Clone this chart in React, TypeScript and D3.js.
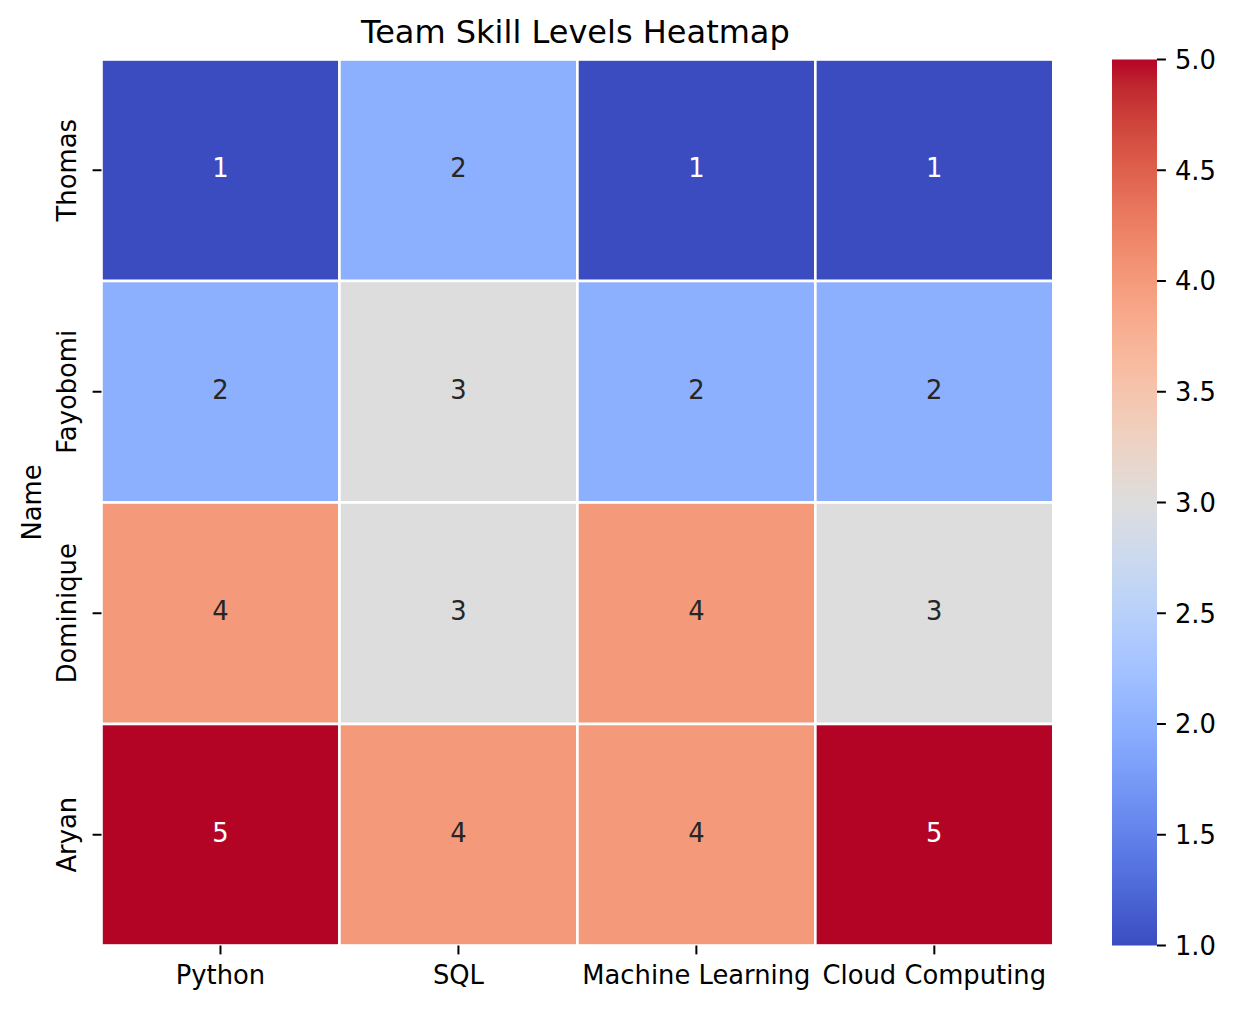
import React from "react";
import * as d3 from "d3";

const names = ["Thomas", "Fayobomi", "Dominique", "Aryan"];
const skills = ["Python", "SQL", "Machine Learning", "Cloud Computing"];
const values = [
  [1, 2, 1, 1],
  [2, 3, 2, 2],
  [4, 3, 4, 3],
  [5, 4, 4, 5],
];
const cbarTicks = [1.0, 1.5, 2.0, 2.5, 3.0, 3.5, 4.0, 4.5, 5.0];

// matplotlib coolwarm samples (33 points)
const coolwarm: [number, number, number][] = [
  [59, 76, 192], [68, 90, 204], [77, 104, 215], [87, 117, 225], [98, 130, 234],
  [108, 142, 241], [119, 154, 247], [130, 165, 251], [141, 176, 254], [152, 185, 255],
  [163, 194, 255], [174, 201, 253], [184, 208, 249], [194, 213, 244], [204, 217, 238],
  [213, 219, 230], [221, 221, 221], [229, 216, 209], [236, 211, 197], [241, 204, 184],
  [245, 196, 172], [247, 187, 160], [247, 177, 148], [247, 166, 136], [244, 154, 123],
  [241, 141, 111], [236, 127, 99], [229, 112, 88], [222, 96, 77], [213, 80, 66],
  [203, 62, 56], [192, 40, 47], [180, 4, 38],
];
const cwInterp = d3.piecewise(
  d3.interpolateRgb,
  coolwarm.map(([r, g, b]) => d3.rgb(r, g, b).toString())
);

const W = 1237;
const H = 1010;
const left = 101.5;
const right = 1053.3;
const top = 59.5;
const bottom = 945.5;
const cbX0 = 1112;
const cbX1 = 1157;
const fs = 25.8;
const titleFs = 32;
const font = "DejaVu Sans, sans-serif";

export default function App() {
  const x = d3.scaleBand<string>().domain(skills).range([left, right]);
  const y = d3.scaleBand<string>().domain(names).range([top, bottom]);
  const vmin = 1, vmax = 5;
  const norm = d3.scaleLinear().domain([vmin, vmax]).range([0, 1]);
  const color = (v: number) => cwInterp(norm(v));
  const cy = d3.scaleLinear().domain([vmin, vmax]).range([bottom, top]);
  const textColor = (v: number) => {
    const c = d3.rgb(color(v));
    const lin = (u: number) => {
      u /= 255;
      return u <= 0.03928 ? u / 12.92 : Math.pow((u + 0.055) / 1.055, 2.4);
    };
    const lum = 0.2126 * lin(c.r) + 0.7152 * lin(c.g) + 0.0722 * lin(c.b);
    return lum > 0.408 ? "#262626" : "#ffffff";
  };
  const stops = d3.range(0, 257).map((i) => i / 256);
  const tickLen = 8.9;

  return (
    <svg
      width={W}
      height={H}
      style={{ position: "absolute", left: 0, top: 0, background: "#fff" }}
      fontFamily={font}
    >
      <defs>
        <linearGradient id="cw" x1="0" y1="1" x2="0" y2="0">
          {stops.map((t, i) => (
            <stop key={i} offset={t} stopColor={cwInterp(t)} />
          ))}
        </linearGradient>
      </defs>
      <rect x={0} y={0} width={W} height={H} fill="#fff" />
      {/* cells */}
      {names.map((n, ri) =>
        skills.map((s, ci) => {
          const v = values[ri][ci];
          return (
            <g key={`${ri}-${ci}`}>
              <rect
                x={x(s)}
                y={y(n)}
                width={x.bandwidth()}
                height={y.bandwidth()}
                fill={color(v)}
                stroke="#fff"
                strokeWidth={2.6}
              />
              <text
                x={(x(s) as number) + x.bandwidth() / 2}
                y={(y(n) as number) + y.bandwidth() / 2 + 7}
                textAnchor="middle"
                fontSize={fs}
                fill={textColor(v)}
              >
                {v}
              </text>
            </g>
          );
        })
      )}
      {/* x ticks */}
      {skills.map((s) => {
        const cx = (x(s) as number) + x.bandwidth() / 2;
        return (
          <g key={s}>
            <line x1={cx} x2={cx} y1={bottom} y2={bottom + tickLen} stroke="#000" strokeWidth={2} />
            <text x={cx} y={984} textAnchor="middle" fontSize={fs} fill="#000">
              {s}
            </text>
          </g>
        );
      })}
      {/* y ticks */}
      {names.map((n) => {
        const cyy = (y(n) as number) + y.bandwidth() / 2;
        return (
          <g key={n}>
            <line x1={left - tickLen} x2={left} y1={cyy} y2={cyy} stroke="#000" strokeWidth={2} />
            <text
              transform={`translate(75.5,${cyy}) rotate(-90)`}
              textAnchor="middle"
              fontSize={fs}
              fill="#000"
            >
              {n}
            </text>
          </g>
        );
      })}
      {/* y label */}
      <text
        transform={`translate(41,${(top + bottom) / 2}) rotate(-90)`}
        textAnchor="middle"
        fontSize={fs}
        fill="#000"
      >
        Name
      </text>
      {/* title */}
      <text x={(left + right) / 2 - 2} y={43} textAnchor="middle" fontSize={titleFs} fill="#000">
        Team Skill Levels Heatmap
      </text>
      {/* colorbar */}
      <rect x={cbX0} y={top} width={cbX1 - cbX0} height={bottom - top} fill="url(#cw)" />
      {cbarTicks.map((t) => (
        <g key={t}>
          <line x1={cbX1} x2={cbX1 + tickLen} y1={cy(t)} y2={cy(t)} stroke="#000" strokeWidth={2} />
          <text x={cbX1 + tickLen + 9} y={cy(t) + 0.3645 * fs} fontSize={fs} fill="#000">
            {t.toFixed(1)}
          </text>
        </g>
      ))}
    </svg>
  );
}
